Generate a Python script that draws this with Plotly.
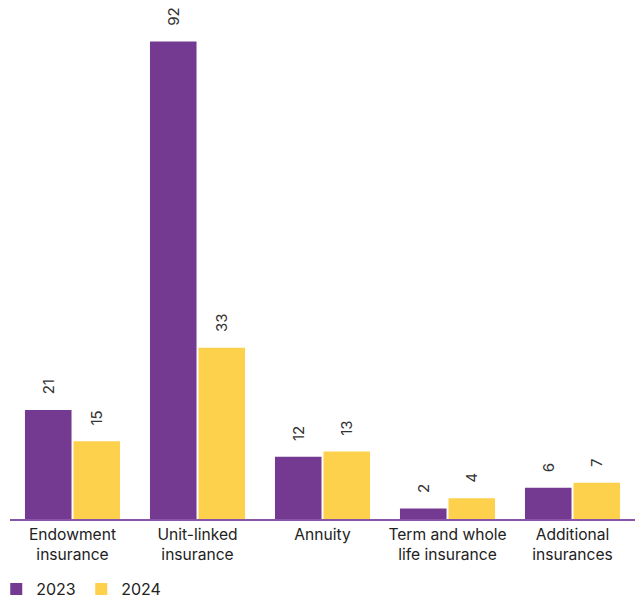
import plotly.graph_objects as go

categories = ["Endowment<br>insurance", "Unit-linked<br>insurance", "Annuity",
              "Term and whole<br>life insurance", "Additional<br>insurances"]
values_2023 = [21, 92, 12, 2, 6]
values_2024 = [15, 33, 13, 4, 7]

PURPLE = "#743A92"
YELLOW = "#FDD14B"
FONT = "Inter, Roboto, Arial, sans-serif"
PAD = "\u00a0\u00a0\u00a0"

fig = go.Figure()
for name, vals, col in [("2023", values_2023, PURPLE), ("2024", values_2024, YELLOW)]:
    fig.add_trace(go.Bar(
        x=categories, y=vals, name=name,
        marker=dict(color=col, line=dict(width=0)),
        text=[PAD + str(v) for v in vals], textposition="outside", textangle=-90,
        textfont=dict(family=FONT, size=15, color="#333333"),
        cliponaxis=False,
    ))

fig.update_layout(
    width=638, height=598,
    margin=dict(l=10, r=3, t=0, b=79, autoexpand=False),
    paper_bgcolor="white", plot_bgcolor="white",
    barmode="group", bargap=0.224, bargroupgap=0.04,
    font=dict(family=FONT, size=15.6, color="#222222"),
    showlegend=True,
    legend=dict(orientation="h", x=-0.022, xanchor="left", y=-0.135, yanchor="middle",
                font=dict(family=FONT, size=16, color="#222222"), entrywidth=40,
                itemwidth=30),
    xaxis=dict(showline=True, linecolor="#8a55a8", linewidth=2, ticks="",
               tickfont=dict(family=FONT, size=15.6, color="#222222"), showgrid=False),
    yaxis=dict(range=[0, 100], visible=False, showgrid=False),
)

fig.write_html("out.html",
               config={"displayModeBar": False},
               post_script="document.body.style.margin='0';document.body.style.overflow='hidden';")
